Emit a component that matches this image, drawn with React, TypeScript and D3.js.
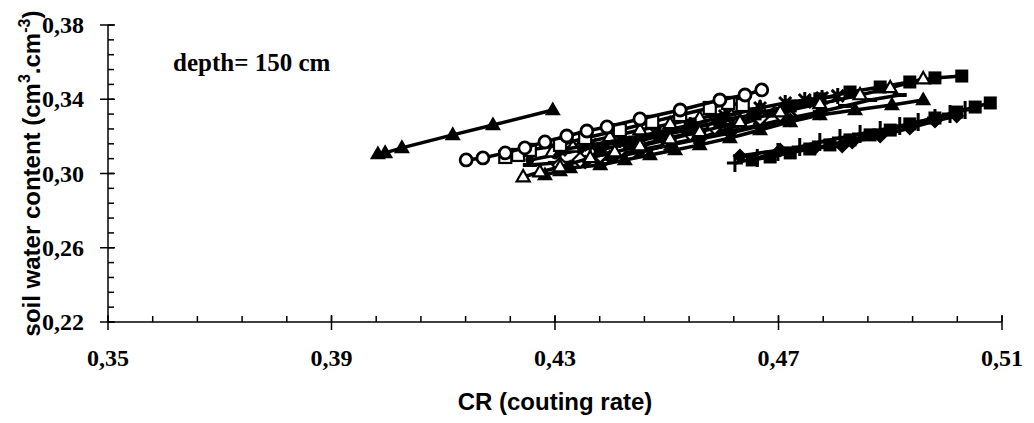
import React from 'react';
import * as d3 from 'd3';

// tick labels
const xTicks = [0.35, 0.39, 0.43, 0.47, 0.51];
const yTicks = [0.22, 0.26, 0.3, 0.34, 0.38];

// series values: CR (x) and soil water content (y)
const triLeftCR = [0.3983, 0.3996, 0.4026, 0.4117, 0.4189, 0.4296];
const triLeftW = [0.3105, 0.3111, 0.3138, 0.3208, 0.3261, 0.3342];

const circleCR = [0.4141, 0.4171, 0.4211, 0.4246, 0.4282, 0.4321, 0.4357, 0.4393, 0.4452, 0.4524, 0.4595, 0.464, 0.467];
const circleW = [0.3073, 0.3084, 0.3111, 0.3138, 0.317, 0.3202, 0.3229, 0.3251, 0.3294, 0.3342, 0.3396, 0.3423, 0.345];

const squareOpenCR = [0.4211, 0.4234, 0.4255, 0.4309, 0.4354, 0.4416, 0.4474, 0.4524, 0.4577, 0.461, 0.4636];
const squareOpenW = [0.3089, 0.31, 0.3127, 0.3154, 0.3191, 0.3234, 0.3278, 0.3315, 0.3353, 0.338, 0.3369];

const triOpenCR = [0.4243, 0.4273, 0.4309, 0.4363, 0.4407, 0.4452, 0.4506, 0.4559, 0.4631, 0.4703, 0.4774, 0.4846, 0.49, 0.4959];
const triOpenW = [0.2981, 0.3008, 0.3035, 0.3084, 0.3116, 0.3148, 0.3186, 0.3224, 0.3278, 0.3331, 0.3375, 0.3423, 0.3461, 0.3509];

const squareTopCR = [0.4381, 0.4434, 0.4488, 0.4542, 0.4595, 0.4658, 0.4721, 0.4774, 0.4828, 0.4882, 0.4935, 0.498, 0.5028];
const squareTopW = [0.3127, 0.3164, 0.3202, 0.324, 0.3278, 0.3321, 0.3364, 0.3402, 0.3439, 0.3466, 0.3493, 0.3515, 0.3525];

const starCR = [0.4309, 0.4363, 0.4416, 0.4479, 0.4542, 0.4604, 0.4667, 0.4712, 0.4747, 0.4778, 0.4806];
const starW = [0.3127, 0.3154, 0.3181, 0.3218, 0.3261, 0.331, 0.3353, 0.338, 0.3396, 0.3407, 0.3418];

const crossCR = [0.4381, 0.4416, 0.4452, 0.4506, 0.4559, 0.4613, 0.4667, 0.4721, 0.4765];
const crossW = [0.3073, 0.3094, 0.3116, 0.3154, 0.3191, 0.3245, 0.3299, 0.3342, 0.3385];

const triRightCR = [0.4282, 0.4309, 0.4327, 0.4381, 0.4425, 0.447, 0.4515, 0.4559, 0.4613, 0.4667, 0.4721, 0.4774, 0.4837, 0.4903, 0.4959];
const triRightW = [0.2992, 0.3014, 0.303, 0.3046, 0.3073, 0.31, 0.3127, 0.3154, 0.3191, 0.3234, 0.3278, 0.3315, 0.3342, 0.3369, 0.3396];

const dashCR = [0.4255, 0.43, 0.4345, 0.4398, 0.4452, 0.4506, 0.4559, 0.4613, 0.4667, 0.4721, 0.4774, 0.4819, 0.4864, 0.4917];
const dashW = [0.3046, 0.3057, 0.3062, 0.3094, 0.3127, 0.3159, 0.3191, 0.3229, 0.3261, 0.3299, 0.3331, 0.3364, 0.3396, 0.3423];

const diamondOpenCR = [0.4309, 0.4345, 0.4381, 0.4416, 0.4452, 0.4497, 0.4542, 0.4586, 0.4631, 0.4667, 0.4703];
const diamondOpenW = [0.3046, 0.3073, 0.31, 0.3127, 0.3154, 0.3186, 0.3218, 0.3251, 0.3278, 0.3299, 0.3321];

const dotCR = [0.4255, 0.43, 0.4345, 0.4389, 0.4434, 0.4488, 0.4542, 0.4595, 0.4649, 0.4694];
const dotW = [0.3073, 0.31, 0.3127, 0.3154, 0.3181, 0.3213, 0.3245, 0.3278, 0.331, 0.3337];

const triMidCR = [0.4295, 0.4314, 0.4332, 0.4348, 0.4398, 0.4452, 0.4506, 0.4559, 0.4613, 0.4667];
const triMidW = [0.3116, 0.3138, 0.3143, 0.3164, 0.3197, 0.3234, 0.3267, 0.3299, 0.3326, 0.3353];

const diamondMidCR = [0.4354, 0.4398, 0.4452, 0.4506, 0.4559, 0.4613, 0.4667, 0.4721, 0.4774];
const diamondMidW = [0.3062, 0.3089, 0.3121, 0.3154, 0.3186, 0.3218, 0.3256, 0.3288, 0.3326];

const diamondCR = [0.4631, 0.4703, 0.4765, 0.4814, 0.4832, 0.4882, 0.4935, 0.498, 0.5019];
const diamondW = [0.3094, 0.3127, 0.3138, 0.3148, 0.317, 0.3202, 0.3245, 0.3283, 0.331];

const plusCR = [0.4622, 0.4662, 0.4699, 0.4738, 0.4774, 0.481, 0.4846, 0.4882, 0.4917, 0.495, 0.498, 0.5007, 0.5034];
const plusW = [0.3057, 0.3084, 0.3116, 0.3143, 0.317, 0.3191, 0.3213, 0.3234, 0.3256, 0.3278, 0.3299, 0.3321, 0.3342];

const squareLowCR = [0.4653, 0.4685, 0.4721, 0.4756, 0.4792, 0.4828, 0.4864, 0.49, 0.4935, 0.498, 0.5019, 0.5052, 0.5079];
const squareLowW = [0.3073, 0.3089, 0.3111, 0.3132, 0.3154, 0.3181, 0.3208, 0.3234, 0.3267, 0.3299, 0.3331, 0.3358, 0.338];

const series = [
  { cr: triLeftCR, w: triLeftW, marker: 'triF' },
  { cr: diamondCR, w: diamondW, marker: 'diaF' },
  { cr: plusCR, w: plusW, marker: 'plus' },
  { cr: squareLowCR, w: squareLowW, marker: 'sqF' },
  { cr: triRightCR, w: triRightW, marker: 'triF' },
  { cr: diamondMidCR, w: diamondMidW, marker: 'diaF' },
  { cr: dashCR, w: dashW, marker: 'dash' },
  { cr: crossCR, w: crossW, marker: 'x' },
  { cr: dotCR, w: dotW, marker: 'dot' },
  { cr: diamondOpenCR, w: diamondOpenW, marker: 'diaO' },
  { cr: triMidCR, w: triMidW, marker: 'triO' },
  { cr: starCR, w: starW, marker: 'star' },
  { cr: squareTopCR, w: squareTopW, marker: 'sqF' },
  { cr: triOpenCR, w: triOpenW, marker: 'triO' },
  { cr: squareOpenCR, w: squareOpenW, marker: 'sqO' },
  { cr: circleCR, w: circleW, marker: 'circO' },
];

const W = 1034;
const H = 423;
const x = d3.scaleLinear().domain([0.35, 0.51]).range([108, 1002]);
const y = d3.scaleLinear().domain([0.22, 0.38]).range([322, 25]);

const fmt = (v: number) => d3.format('.2f')(v).replace('.', ',');
const serif = 'Liberation Serif, Times New Roman, serif';
const sans = 'Liberation Sans, Arial, sans-serif';

function Marker({ type, cx, cy }: { type: string; cx: number; cy: number }) {
  const t = `translate(${cx},${cy})`;
  if (type === 'triF' || type === 'triO') {
    const s = type === 'triF' ? 16 : 13;
    const h = s * 0.866;
    const d = `M0,${-h * 0.62}L${s / 2},${h * 0.38}L${-s / 2},${h * 0.38}Z`;
    return type === 'triF' ? (
      <path d={d} transform={t} fill="#000" />
    ) : (
      <path d={d} transform={t} fill="#fff" stroke="#000" strokeWidth={2.2} />
    );
  }
  if (type === 'circO') return <circle cx={cx} cy={cy} r={6} fill="#fff" stroke="#000" strokeWidth={2.8} />;
  if (type === 'dot') return <circle cx={cx} cy={cy} r={4.5} fill="#000" />;
  if (type === 'sqO') return <rect x={cx - 6} y={cy - 6} width={12} height={12} fill="#fff" stroke="#000" strokeWidth={2.2} />;
  if (type === 'sqF') return <rect x={cx - 6.5} y={cy - 6.5} width={13} height={13} fill="#000" />;
  if (type === 'diaF' || type === 'diaO') {
    const d = 'M0,-7.5L7.5,0L0,7.5L-7.5,0Z';
    return type === 'diaF' ? (
      <path d={d} transform={t} fill="#000" />
    ) : (
      <path d={d} transform={t} fill="#fff" stroke="#000" strokeWidth={2.2} />
    );
  }
  if (type === 'x') return <path d="M-6,-6L6,6M-6,6L6,-6" transform={t} stroke="#000" strokeWidth={3} />;
  if (type === 'star')
    return <path d="M-6,-6L6,6M-6,6L6,-6M0,-8L0,8" transform={t} stroke="#000" strokeWidth={3} />;
  if (type === 'plus') return <path d="M-8,0L8,0M0,-9L0,9" transform={t} stroke="#000" strokeWidth={3} />;
  if (type === 'dash') return <path d="M-7,0L7,0" transform={t} stroke="#000" strokeWidth={4} />;
  return null;
}

export default function App() {
  const xMinor = d3.range(0.35, 0.5101, 0.008);
  const yMinor = d3.range(0.22, 0.3801, 0.008);

  return (
    <svg width={W} height={H} style={{ position: 'absolute', left: 0, top: 0, background: '#fff' }}>
      {/* series: line then markers */}
      {series.map((s, i) => {
        const pts = s.cr.map((c, j) => [x(c), y(s.w[j])] as [number, number]);
        const path = d3.line()(pts) || '';
        return (
          <g key={i}>
            <path d={path} fill="none" stroke="#000" strokeWidth={3.5} />
            {pts.map((p, j) => (
              <Marker key={j} type={s.marker} cx={p[0]} cy={p[1]} />
            ))}
          </g>
        );
      })}

      {/* axes */}
      <g stroke="#000" strokeWidth={1.5} fill="none">
        <line x1={x(0.35)} x2={x(0.51)} y1={y(0.22)} y2={y(0.22)} />
        <line x1={x(0.35)} x2={x(0.35)} y1={y(0.22)} y2={y(0.38)} />
        {xMinor.map((v, i) => (
          <line key={'xm' + i} x1={x(v)} x2={x(v)} y1={y(0.22)} y2={y(0.22) - 6} />
        ))}
        {xTicks.map((v) => (
          <line key={'xM' + v} x1={x(v)} x2={x(v)} y1={y(0.22) - 7} y2={y(0.22) + 8} />
        ))}
        {yMinor.map((v, i) => (
          <line key={'ym' + i} x1={x(0.35)} x2={x(0.35) + 6} y1={y(v)} y2={y(v)} />
        ))}
        {yTicks.map((v) => (
          <line key={'yM' + v} x1={x(0.35) - 8} x2={x(0.35) + 7} y1={y(v)} y2={y(v)} />
        ))}
      </g>

      {xTicks.map((v) => (
        <text key={'xl' + v} x={x(v)} y={366} textAnchor="middle" fontFamily={serif} fontWeight="bold" fontSize={24}>
          {fmt(v)}
        </text>
      ))}
      {yTicks.map((v) => (
        <text key={'yl' + v} x={84} y={y(v) + 8} textAnchor="end" fontFamily={serif} fontWeight="bold" fontSize={24}>
          {fmt(v)}
        </text>
      ))}

      <text x={173} y={71} fontFamily={serif} fontWeight="bold" fontSize={25}>
        depth= 150 cm
      </text>

      <text x={555} y={410} textAnchor="middle" fontFamily={sans} fontWeight="bold" fontSize={24}>
        CR (couting rate)
      </text>

      <text
        transform={`translate(40,${(y(0.22) + y(0.38)) / 2}) rotate(-90)`}
        textAnchor="middle"
        fontFamily={sans}
        fontWeight="bold"
        fontSize={24}
      >
        soil water content (cm
        <tspan dy={-10} fontSize={16}>3</tspan>
        <tspan dy={10}>.cm</tspan>
        <tspan dy={-10} fontSize={16}>-3</tspan>
        <tspan dy={10}>)</tspan>
      </text>
    </svg>
  );
}
